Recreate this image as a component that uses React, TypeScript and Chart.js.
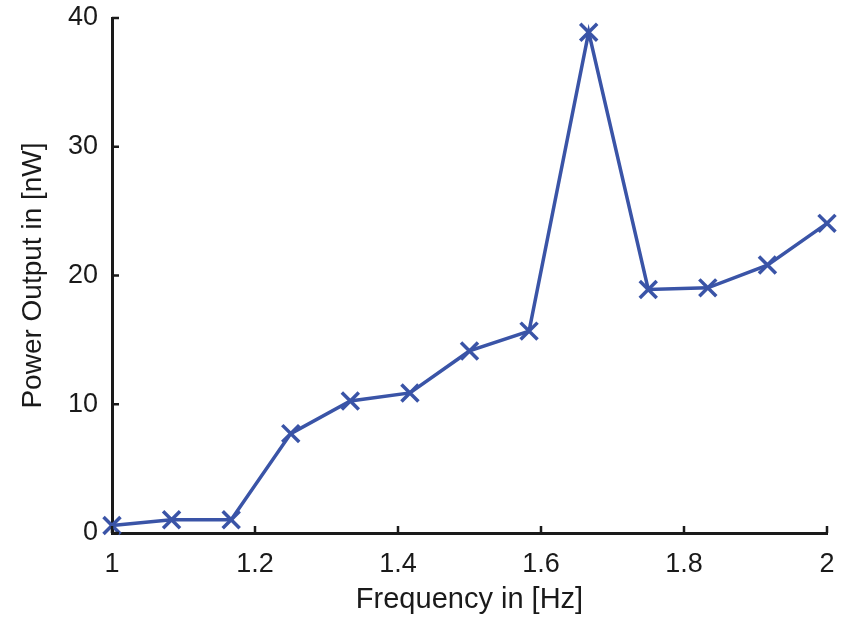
import React, { useEffect, useRef } from "react";
import { Chart, registerables } from "chart.js";

Chart.register(...registerables);

// Measured power output at each excitation frequency
const frequencies: number[] = [1, 1.0833, 1.1667, 1.25, 1.3333, 1.4167, 1.5, 1.5833, 1.6667, 1.75, 1.8333, 1.9167, 2];
const powerOutput: number[] = [0.59, 1.03, 1.03, 7.72, 10.26, 10.88, 14.14, 15.68, 38.9, 18.92, 19.04, 20.81, 24.05];

const xTicks: number[] = [1, 1.2, 1.4, 1.6, 1.8, 2];
const yTicks: number[] = [0, 10, 20, 30, 40];

const FONT = "'Liberation Sans', Arial, Helvetica, sans-serif";
const LINE_BLUE = "#3a54a7";
const INK = "#1a1a1a";

// Short inward tick marks drawn along the two visible axes
const inwardTicks = {
  id: "inwardTicks",
  afterDraw(chart: any) {
    const { ctx, chartArea, scales } = chart;
    const len = 7;
    ctx.save();
    ctx.strokeStyle = INK;
    ctx.lineWidth = 2.5;
    ctx.beginPath();
    xTicks.forEach((v) => {
      const px = scales.x.getPixelForValue(v);
      ctx.moveTo(px, chartArea.bottom);
      ctx.lineTo(px, chartArea.bottom - len);
    });
    yTicks.forEach((v) => {
      const py = scales.y.getPixelForValue(v);
      ctx.moveTo(chartArea.left, py);
      ctx.lineTo(chartArea.left + len, py);
    });
    ctx.stroke();
    ctx.restore();
  },
};

export default function App() {
  const canvasRef = useRef<HTMLCanvasElement | null>(null);

  useEffect(() => {
    if (!canvasRef.current) return;
    const chart = new Chart(canvasRef.current, {
      type: "line",
      data: {
        datasets: [
          {
            data: frequencies.map((f, i) => ({ x: f, y: powerOutput[i] })),
            borderColor: LINE_BLUE,
            backgroundColor: LINE_BLUE,
            borderWidth: 3.5,
            pointStyle: "crossRot",
            pointRadius: 12,
            pointBorderWidth: 3.5,
            pointBorderColor: LINE_BLUE,
            tension: 0,
            clip: false,
          },
        ],
      },
      options: {
        responsive: false,
        animation: false,
        layout: { padding: { top: 18, right: 23, left: 0, bottom: 0 } },
        plugins: {
          legend: { display: false },
          tooltip: { enabled: false },
        },
        scales: {
          x: {
            type: "linear",
            min: 1,
            max: 2,
            afterBuildTicks: (scale: any) => {
              scale.ticks = xTicks.map((v) => ({ value: v }));
            },
            afterFit: (scale: any) => {
              scale.height = 84;
              scale.paddingLeft = 0;
              scale.paddingRight = 0;
            },
            grid: { display: false, drawTicks: false },
            border: { display: true, color: INK, width: 3 },
            ticks: {
              color: INK,
              padding: 15,
              font: { family: FONT, size: 27 },
              maxRotation: 0,
              callback: (v: any) => String(Math.round(Number(v) * 10) / 10),
            },
            title: {
              display: true,
              text: "Frequency in [Hz]",
              color: INK,
              font: { family: FONT, size: 29 },
              padding: { top: 2, bottom: 0 },
            },
          },
          y: {
            type: "linear",
            min: 0,
            max: 40,
            afterBuildTicks: (scale: any) => {
              scale.ticks = yTicks.map((v) => ({ value: v }));
            },
            afterFit: (scale: any) => {
              scale.width = 112;
              scale.paddingTop = 0;
              scale.paddingBottom = 0;
            },
            grid: { display: false, drawTicks: false },
            border: { display: true, color: INK, width: 3 },
            ticks: {
              color: INK,
              padding: 14,
              font: { family: FONT, size: 27 },
            },
            title: {
              display: true,
              text: "Power Output in [nW]",
              color: INK,
              font: { family: FONT, size: 28 },
              padding: { top: 16, bottom: 0 },
            },
          },
        },
      },
      plugins: [inwardTicks],
    });
    return () => chart.destroy();
  }, []);

  return (
    <div style={{ position: "absolute", left: 0, top: 0, width: 850, height: 617, background: "#fff" }}>
      <canvas ref={canvasRef} width={850} height={617} />
    </div>
  );
}
